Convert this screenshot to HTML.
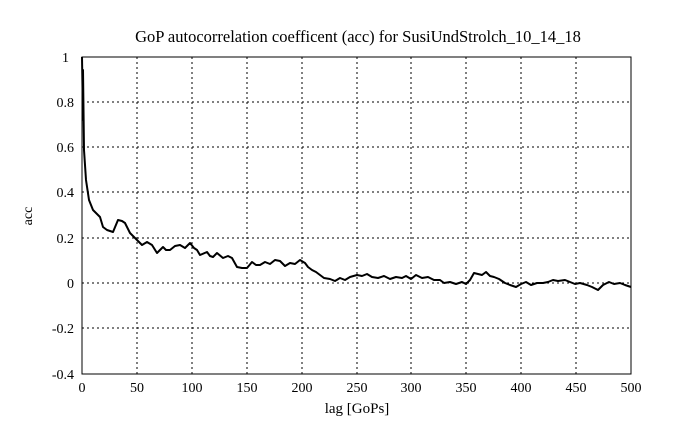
<!DOCTYPE html>
<html><head><style>body{margin:0;background:#fff}svg{display:block}text{font-family:"Liberation Serif",serif;fill:#000}</style></head>
<body>
<svg width="689" height="433" viewBox="0 0 689 433">
<g stroke="#000" stroke-width="1" stroke-dasharray="2,3">
<line x1="137" y1="57" x2="137" y2="374"/><line x1="192" y1="57" x2="192" y2="374"/><line x1="247" y1="57" x2="247" y2="374"/><line x1="302" y1="57" x2="302" y2="374"/><line x1="357" y1="57" x2="357" y2="374"/><line x1="411" y1="57" x2="411" y2="374"/><line x1="466" y1="57" x2="466" y2="374"/><line x1="521" y1="57" x2="521" y2="374"/><line x1="576" y1="57" x2="576" y2="374"/>
<line x1="82" y1="102" x2="631" y2="102"/><line x1="82" y1="147" x2="631" y2="147"/><line x1="82" y1="192" x2="631" y2="192"/><line x1="82" y1="238" x2="631" y2="238"/><line x1="82" y1="283" x2="631" y2="283"/><line x1="82" y1="328" x2="631" y2="328"/>
</g>
<rect x="82" y="57" width="549" height="317" fill="none" stroke="#000"/>
<g style="font-size:14px">
<text x="69" y="62" text-anchor="end">1</text><text x="74" y="107" text-anchor="end">0.8</text><text x="74" y="152" text-anchor="end">0.6</text><text x="74" y="197" text-anchor="end">0.4</text><text x="74" y="243" text-anchor="end">0.2</text><text x="74" y="288" text-anchor="end">0</text><text x="74" y="333" text-anchor="end">-0.2</text><text x="74" y="379" text-anchor="end">-0.4</text>
<text x="82" y="392" text-anchor="middle">0</text><text x="137" y="392" text-anchor="middle">50</text><text x="192" y="392" text-anchor="middle">100</text><text x="247" y="392" text-anchor="middle">150</text><text x="302" y="392" text-anchor="middle">200</text><text x="357" y="392" text-anchor="middle">250</text><text x="411" y="392" text-anchor="middle">300</text><text x="466" y="392" text-anchor="middle">350</text><text x="521" y="392" text-anchor="middle">400</text><text x="576" y="392" text-anchor="middle">450</text><text x="631" y="392" text-anchor="middle">500</text>
<text x="32" y="216" text-anchor="middle" transform="rotate(-90 32 216)">acc</text>
</g>
<text x="357" y="413" text-anchor="middle" style="font-size:15px">lag [GoPs]</text>
<text x="358" y="42" text-anchor="middle" style="font-size:16.5px">GoP autocorrelation coefficent (acc) for SusiUndStrolch_10_14_18</text>
<polyline fill="none" stroke="#000" stroke-width="2" stroke-linejoin="round" points="82,57 83,120 83,70 84,150 86,180 89,200 93,210 100,217 103,227 107,230 113,232 118,220 122,221 125,223 130,233 137,240 142,245 147,242 152,245 157,253 163,247 166,250 170,250 175,246 180,245 185,248 190,243 194,248 197,250 200,255 207,252 210,256 213,257 217,253 223,258 228,256 232,258 237,267 242,268 247,268 252,262 256,265 260,265 265,262 270,264 275,260 280,261 285,266 290,263 295,264 300,260 305,263 308,267 312,270 316,272 320,275 324,278 330,279 335,281 340,278 345,280 350,277 357,275 362,276 367,274 372,277 378,278 384,276 390,279 396,277 402,278 406,276 411,279 416,275 422,278 428,277 434,280 440,280 444,283 450,282 456,284 462,282 466,284 470,280 474,273 478,274 482,275 486,272 490,276 494,277 499,279 505,283 510,285 516,287 521,284 526,282 531,285 537,283 543,283 548,282 553,280 558,281 565,280 570,282 575,284 580,283 587,285 592,287 598,290 603,285 609,282 614,284 620,283 625,285 631,287"/>
</svg>
</body></html>
